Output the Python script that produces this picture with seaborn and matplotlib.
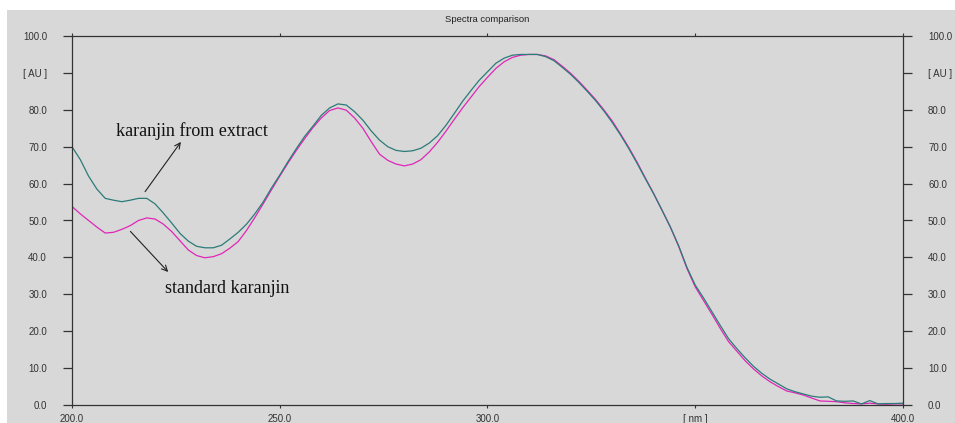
import numpy as np
import pandas as pd
import seaborn as sns
import matplotlib.pyplot as plt
from matplotlib.patches import Rectangle

## Data (wavelength in nm, absorbance in AU)
wavelength = list(range(200, 401, 2))

extract_au = [
    70.0, 66.5, 62.0, 58.5, 56.0, 55.5, 55.1, 55.5, 56.0, 56.0,
    54.5, 52.0, 49.3, 46.5, 44.4, 43.0, 42.6, 42.6, 43.3, 45.0,
    46.8, 49.0, 51.8, 55.0, 58.8, 62.3, 66.0, 69.5, 72.8, 75.6,
    78.5, 80.5, 81.6, 81.3, 79.5, 77.2, 74.3, 71.8, 70.0, 69.0,
    68.7, 68.9, 69.6, 71.0, 73.0, 75.8, 79.0, 82.3, 85.2, 88.0,
    90.3, 92.6, 94.0, 94.8, 95.0, 95.0, 95.0, 94.4, 93.3, 91.5,
    89.6, 87.4, 85.0, 82.5, 79.7, 76.6, 73.2, 69.5, 65.5, 61.3,
    57.2, 52.8, 48.3, 43.2, 37.3, 32.5, 29.0, 25.3, 21.6, 18.0,
    15.3, 12.8, 10.5, 8.6, 7.0, 5.7, 4.4, 3.6, 3.0, 2.4,
    2.1, 2.2, 1.1, 1.0, 1.1, 0.3, 1.2, 0.3, 0.4, 0.4,
    0.5,
]

standard_au = [
    53.8, 51.8, 50.0, 48.2, 46.6, 46.8, 47.6, 48.6, 50.0, 50.7,
    50.4, 49.0, 47.0, 44.5, 42.0, 40.5, 39.9, 40.2, 41.0, 42.5,
    44.3, 47.3, 50.8, 54.5, 58.3, 62.0, 65.6, 69.0, 72.2, 75.2,
    77.8, 79.8, 80.5, 79.9, 77.8, 75.0, 71.4, 68.0, 66.3, 65.3,
    64.8, 65.3, 66.5, 68.6, 71.2, 74.2, 77.4, 80.5, 83.4, 86.3,
    88.8, 91.2, 93.0, 94.2, 94.8, 95.0, 95.0, 94.6, 93.6, 91.8,
    89.9, 87.7, 85.3, 82.8, 80.0, 77.0, 73.5, 69.8, 65.8, 61.5,
    57.3, 52.8, 48.2, 43.0, 37.0, 32.0, 28.3, 24.6, 20.8, 17.2,
    14.6, 12.0, 9.8, 7.9, 6.3, 5.0, 3.8, 3.3, 2.7, 1.9,
    1.1, 1.0, 0.9, 0.6, 0.4, 0.3, 0.5, 0.3, 0.2, 0.3,
    0.3,
]

x_ticks = [200, 250, 300, 350, 400]
x_ticklabels = ["200.0", "250.0", "300.0", "[ nm ]", "400.0"]
y_ticks = list(range(0, 101, 10))
y_ticklabels = ["0.0", "10.0", "20.0", "30.0", "40.0", "50.0",
                "60.0", "70.0", "80.0", "[ AU ]", "100.0"]

spectra = pd.concat([
    pd.DataFrame({"nm": wavelength, "AU": standard_au, "sample": "standard"}),
    pd.DataFrame({"nm": wavelength, "AU": extract_au, "sample": "extract"}),
])

#-----------------------------------------Generate plot-------------------------------------------------#
bg = "#d8d8d8"
fig = plt.figure(figsize=(9.55, 4.23), dpi=100, facecolor="white")
# gray panel behind everything (white strip on top and left edge)
fig.patches.append(Rectangle((7 / 955, 0), 1, (423 - 10) / 423, transform=fig.transFigure,
                             facecolor=bg, edgecolor="none", zorder=-10))
ax = fig.add_axes([72 / 955, 1 - 405 / 423, (903 - 72) / 955, (405 - 36) / 423])
ax.set_facecolor(bg)

sns.lineplot(data=spectra, x="nm", y="AU", hue="sample", hue_order=["standard", "extract"],
             palette={"standard": "#e026b8", "extract": "#2b7b78"}, linewidth=0.9,
             legend=False, ax=ax)

ax.set_xlim(200, 400)
ax.set_ylim(0, 100)
ax.set_xticks(x_ticks)
ax.set_xticklabels(x_ticklabels)
ax.set_yticks(y_ticks)
ax.set_yticklabels(y_ticklabels)
ax.set(xlabel=None, ylabel=None)

for side in ["left", "right", "top", "bottom"]:
    ax.spines[side].set_color("#333333")
    ax.spines[side].set_linewidth(0.9)

ax.tick_params(axis="y", direction="out", length=6.5, width=0.9, color="#333333",
               left=True, right=True, labelleft=True, labelright=True,
               labelsize=7, labelcolor="#333333", pad=11.5)
ax.tick_params(axis="x", direction="out", length=2.5, width=0.8, color="#333333",
               top=True, bottom=True, labelsize=7, labelcolor="#333333", pad=4)
for lab in ax.get_yticklabels() + ax.get_xticklabels():
    lab.set_family("Liberation Sans")

ax.set_title("Spectra comparison", fontsize=6.8, family="Liberation Sans",
             color="#222222", pad=10)

# Annotations with arrows
ax.text(228.8, 74.3, "karanjin from extract", family="Liberation Serif", fontsize=13,
        color="#111111", ha="center", va="center")
ax.annotate("", xy=(226.6, 71.9), xytext=(217.2, 57.2),
            arrowprops=dict(arrowstyle="->", color="#222222", lw=0.8))
ax.text(237.4, 31.7, "standard karanjin", family="Liberation Serif", fontsize=13,
        color="#111111", ha="center", va="center")
ax.annotate("", xy=(223.6, 35.5), xytext=(213.6, 47.6),
            arrowprops=dict(arrowstyle="->", color="#222222", lw=0.8))

plt.savefig("out.png", dpi=100, facecolor="white")
plt.close()
